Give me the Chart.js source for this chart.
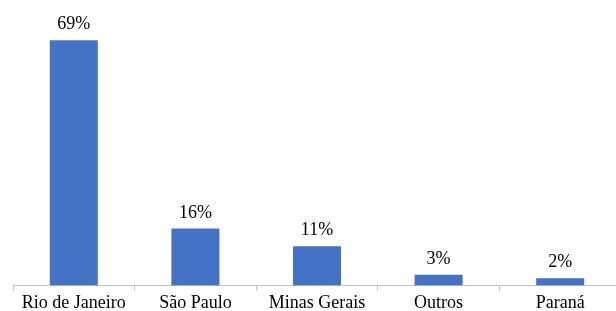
<!DOCTYPE html>
<html>
<head>
<meta charset="utf-8">
<script src="https://cdn.jsdelivr.net/npm/chart.js@4.4.0/dist/chart.umd.min.js"></script>
<style>
  html, body { margin: 0; padding: 0; background: #fff; overflow: hidden; }
  #wrap { width: 622px; height: 316px; }
</style>
</head>
<body>
<div id="wrap"><canvas id="chart"></canvas></div>
<script>
const categories = ["Rio de Janeiro", "São Paulo", "Minas Gerais", "Outros", "Paraná"];
const shares = [69, 16, 11, 3, 2];

const FONT = "'Liberation Serif', 'Times New Roman', serif";

// percent labels above each bar
const barLabels = {
    id: "barLabels",
    afterDatasetsDraw(chart) {
        const ctx = chart.ctx;
        const meta = chart.getDatasetMeta(0);
        ctx.save();
        ctx.font = "18px " + FONT;
        ctx.fillStyle = "#000";
        ctx.textAlign = "center";
        ctx.textBaseline = "alphabetic";
        meta.data.forEach((bar, i) => {
            ctx.fillText(shares[i] + "%", bar.x, bar.y - 11);
        });
        ctx.restore();
    }
};

new Chart(document.getElementById("chart"), {
    type: "bar",
    data: {
        labels: categories,
        datasets: [{ data: shares, backgroundColor: "#4472C4", categoryPercentage: 1, barPercentage: 0.395 }]
    },
    options: {
        responsive: true,
        maintainAspectRatio: false,
        animation: false,
        layout: { padding: { left: 13, right: 1, top: 19, bottom: 0 } },
        plugins: { legend: { display: false }, tooltip: { enabled: false } },
        scales: {
            x: {
                offset: true,
                border: { color: "#BFBFBF", width: 1 },
                grid: { offset: true, drawOnChartArea: false, color: "#BFBFBF", tickLength: 5 },
                ticks: { color: "#000", font: { family: FONT, size: 18 }, padding: 2 }
            },
            y: { display: false, min: 0, max: 75 }
        }
    },
    plugins: [barLabels]
});
</script>
</body>
</html>
